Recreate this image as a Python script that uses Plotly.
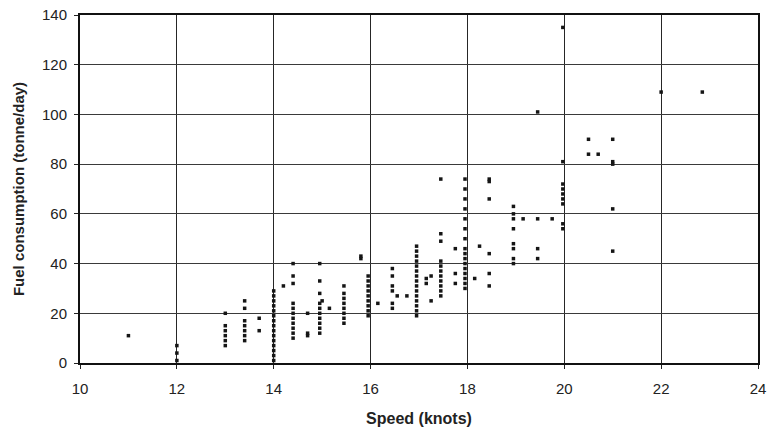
import plotly.graph_objects as go

# Speed (knots) groups and the fuel consumption readings (tonne/day) at each
speed_groups = [11, 12, 13, 13.4, 13.7, 14, 14.2, 14.4, 14.7, 14.95, 15.0, 15.15,
                15.45, 15.8, 15.95, 16.15, 16.45, 16.55, 16.75, 16.95, 17.15, 17.25,
                17.45, 17.75, 17.95, 18.15, 18.25, 18.45, 18.95, 19.15, 19.45, 19.75,
                19.97, 20.5, 20.7, 21.0, 22.0, 22.85]
fuel_groups = [
    [11],
    [7, 4, 1],
    [20, 15, 13, 11, 9, 7],
    [25, 22, 17, 15, 13, 11, 9],
    [18, 13],
    [29, 27, 25, 23, 21, 19, 17, 15, 13, 11, 9, 7, 5, 3, 1],
    [31],
    [40, 35, 32, 24, 22, 20, 18, 16, 14, 12, 10],
    [20, 12, 11],
    [40, 33, 28, 24, 22, 20, 18, 16, 14, 12],
    [25],
    [22],
    [31, 28, 26, 24, 22, 20, 18, 16],
    [42, 43],
    [35, 33, 31, 29, 27, 25, 23, 21, 19],
    [24],
    [38, 35, 31, 29, 24, 22],
    [27],
    [27],
    [47, 45, 43, 41, 39, 37, 35, 33, 31, 29, 27, 25, 23, 21, 19],
    [34, 32],
    [35, 25],
    [74, 52, 49, 41, 39, 37, 35, 33, 31, 29, 27],
    [46, 36, 32],
    [74, 70, 66, 62, 58, 54, 50, 46, 44, 42, 40, 38, 36, 34, 32, 30],
    [34],
    [47],
    [74, 73, 66, 44, 36, 31],
    [63, 60, 58, 54, 48, 46, 42, 40],
    [58],
    [101, 58, 46, 42],
    [58],
    [135, 81, 72, 70, 68, 66, 64, 56, 54],
    [90, 84],
    [84],
    [90, 81, 80, 62, 45],
    [109],
    [109],
]

x_ticks = [10, 12, 14, 16, 18, 20, 22, 24]
y_ticks = [0, 20, 40, 60, 80, 100, 120, 140]

speed = []
fuel = []
for s, fs in zip(speed_groups, fuel_groups):
    for f in fs:
        speed.append(s)
        fuel.append(f)

fig = go.Figure()
fig.add_trace(go.Scatter(
    x=speed, y=fuel, mode="markers",
    marker=dict(symbol="square", size=3.5, color="#151515", line=dict(width=0)),
    showlegend=False,
))

FONT = "Liberation Sans, Arial, sans-serif"
fig.update_layout(
    width=771, height=430,
    margin=dict(l=80, r=13, t=15, b=67, autoexpand=False),
    paper_bgcolor="white", plot_bgcolor="white",
    font=dict(family=FONT, size=15, color="#222"),
    xaxis=dict(
        range=[10, 24], tickvals=x_ticks, ticktext=[str(v) for v in x_ticks],
        showgrid=True, gridcolor="#262626", gridwidth=1,
        showline=True, linecolor="#111", linewidth=2, mirror=True,
        ticks="outside", ticklen=4, tickcolor="#222",
        ticklabelstandoff=7,
        zeroline=False, automargin=False,
        tickfont=dict(family=FONT, size=15, color="#222"),
        title=dict(text="<b>Speed (knots)</b>", font=dict(family=FONT, size=16, color="#222"), standoff=17),
    ),
    yaxis=dict(
        range=[0, 140], tickvals=y_ticks, ticktext=[str(v) for v in y_ticks],
        showgrid=True, gridcolor="#3a3a3a", gridwidth=1,
        showline=True, linecolor="#111", linewidth=2, mirror=True,
        ticks="outside", ticklen=4, tickcolor="#222",
        ticklabelstandoff=4,
        zeroline=False, automargin=False,
        tickfont=dict(family=FONT, size=15, color="#222"),
        title=dict(text="<b>Fuel consumption (tonne/day)</b>", font=dict(family=FONT, size=15, color="#222"), standoff=14),
    ),
)

fig.write_html(
    "out.html",
    config={"displayModeBar": False},
    post_script="document.body.style.margin='0px';document.body.style.padding='0px';",
)
